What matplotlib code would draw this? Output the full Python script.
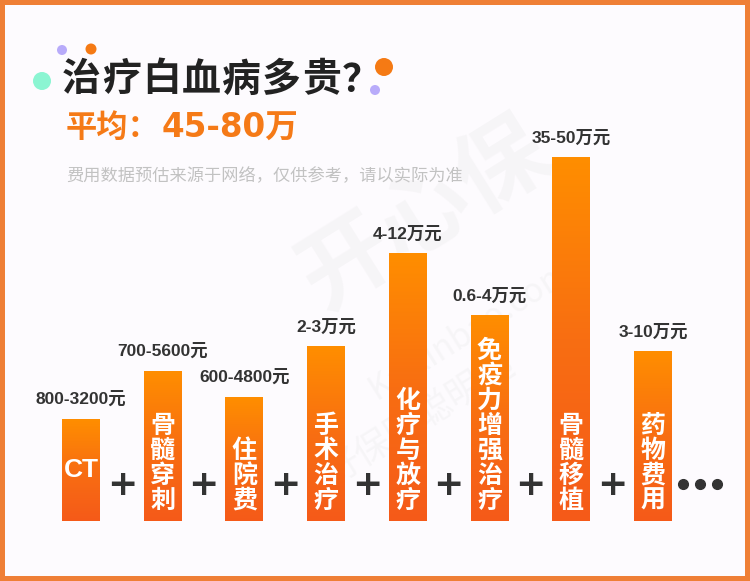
import numpy as np
import matplotlib
matplotlib.use('Agg')
import matplotlib.pyplot as plt
from matplotlib.colors import LinearSegmentedColormap
from matplotlib.patches import Rectangle, Circle

plt.rcParams['font.family'] = ['Noto Sans CJK SC', 'DejaVu Sans']

# 数据
items = ['CT', '骨髓穿刺', '住院费', '手术治疗', '化疗与放疗', '免疫力增强治疗', '骨髓移植', '药物费用']
costs = ['800-3200元', '700-5600元', '600-4800元', '2-3万元', '4-12万元', '0.6-4万元', '35-50万元', '3-10万元']
bar_heights = [102, 150, 124, 175, 268, 206, 364, 170]  # 图中柱高(像素)

title = '治疗白血病多贵？'
subtitle = '平均：45-80万'
note = '费用数据预估来源于网络，仅供参考，请以实际为准'

W, H = 750, 581
fig = plt.figure(figsize=(W / 100, H / 100), dpi=100)
fig.patch.set_facecolor('#EF7F36')

# 背景层 (像素坐标)
bg = fig.add_axes([0, 0, 1, 1])
bg.set_xlim(0, W)
bg.set_ylim(H, 0)
bg.axis('off')
bg.add_patch(Rectangle((5, 5), W - 10, H - 10, facecolor='#FDFBFE', edgecolor='none'))

# 装饰圆点
for (cx, cy, r, c) in [(42, 81, 9, '#8BF5D2'), (62, 50, 5, '#B8ABFA'), (91, 49, 5.5, '#F57A14'),
                       (384, 67, 9, '#F57A14'), (375, 90, 5, '#B8ABFA')]:
    bg.add_patch(Circle((cx, cy), r, facecolor=c, edgecolor='none'))

# 标题 (逐字排列, 字距略宽)
for k, ch in enumerate(title):
    bg.text(62 + 40 * k, 80, ch, fontsize=28, fontweight='heavy', color='#222222', va='center', ha='left')
bg.text(66, 128, subtitle[:3], fontsize=22.5, fontweight='heavy', color='#F57A17', va='center', ha='left')
bg.text(162, 128, subtitle[3:], fontsize=23.5, fontweight='bold', color='#F57A17', va='center', ha='left',
        family=['DejaVu Sans', 'Noto Sans CJK SC'])
bg.text(66, 176, note, fontsize=12.4, color='#C2C2C2', va='center', ha='left')

# 水印
wm = dict(color='#DADADA', alpha=0.18, rotation=32, ha='center', va='center', zorder=10)
bg.text(425, 215, '开心保', fontsize=66, fontweight='heavy', **wm)
bg.text(470, 330, 'Kaixinbao.com', fontsize=24, **wm)
bg.text(420, 420, '好保险聪明选', fontsize=26, **wm)

# 柱状图
ax = fig.add_axes([40.15 / W, 60 / H, 653.6 / W, 400 / H])
ax.set_xlim(-0.5, 7.5)
ax.set_ylim(0, 400)
ax.axis('off')
ax.patch.set_alpha(0)

x = np.arange(len(items))
bars = ax.bar(x, bar_heights, width=0.465, color='none', edgecolor='none')

cmap = LinearSegmentedColormap.from_list('og', ['#F55A19', '#F86E12', '#FF8E00'])
grad = np.linspace(0, 1, 256).reshape(-1, 1)
for b in bars:
    x0, w, h = b.get_x(), b.get_width(), b.get_height()
    im = ax.imshow(grad, cmap=cmap, origin='lower', aspect='auto',
                   extent=[x0, x0 + w, 0, h], zorder=2)
    im.set_clip_path(b)

for i, (name, cost, h) in enumerate(zip(items, costs, bar_heights)):
    ax.text(i, h + 19, cost, fontsize=12.5, fontweight='bold', color='#333333',
            ha='center', va='center', family=['Liberation Sans', 'Noto Sans CJK SC'], zorder=4)
    if name == 'CT':
        ax.text(i, 51, name, fontsize=19, fontweight='bold', color='white',
                ha='center', va='center', family=['Liberation Sans'], zorder=4)
    else:
        n = len(name)
        for k, ch in enumerate(name):
            ax.text(i, 20 + 25 * (n - 1 - k), ch, fontsize=18, fontweight='heavy', color='white',
                    ha='center', va='center', zorder=4)

# 加号和省略号
for i in range(len(items) - 1):
    ax.text(i + 0.5, 36, '+', fontsize=26, fontweight='bold', color='#333333',
            ha='center', va='center', family=['DejaVu Sans'], zorder=4)
ax.plot([7.37, 7.58, 7.78], [37, 37, 37], 'o', color='#333333', markersize=7, zorder=4, clip_on=False)

fig.savefig('out.png', dpi=100, facecolor=fig.get_facecolor())
